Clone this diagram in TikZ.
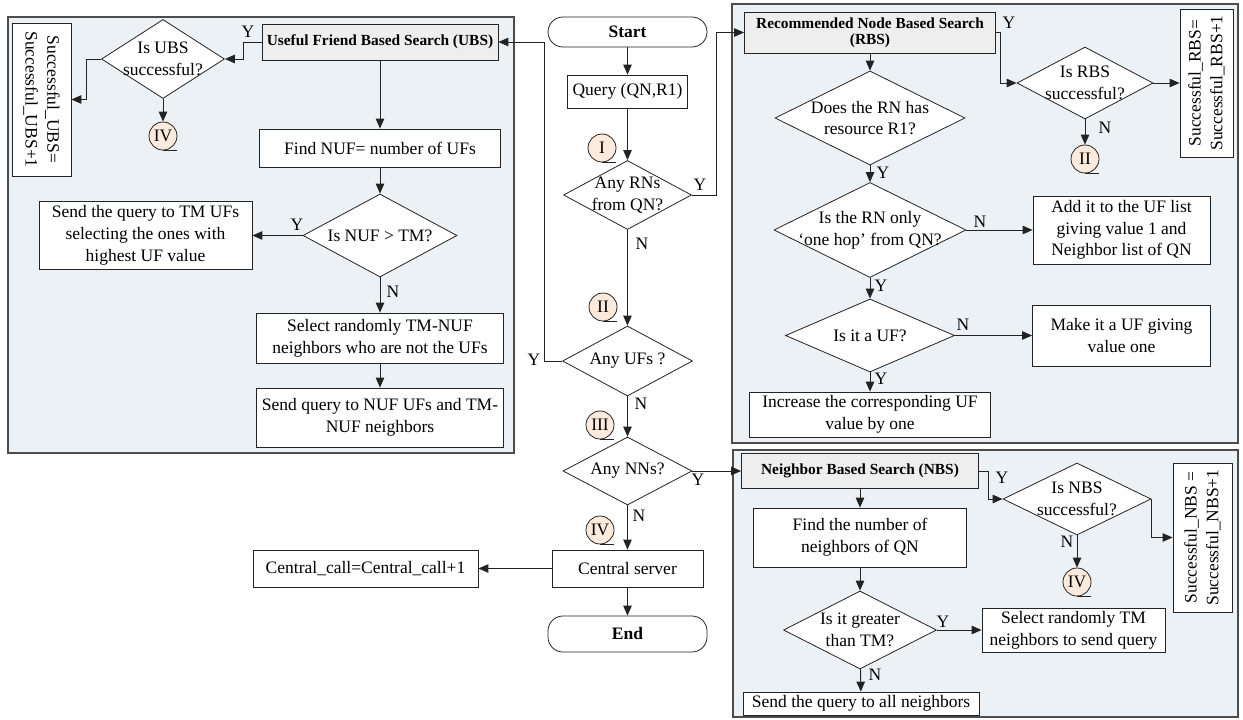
\documentclass[tikz,border=0pt]{standalone}
\usepackage{fontspec}
\setmainfont{Liberation Serif}
\usetikzlibrary{shapes.geometric,arrows.meta}
\definecolor{panelfill}{RGB}{236,241,245}
\definecolor{hdrfill}{RGB}{238,238,238}
\definecolor{circfill}{RGB}{252,235,220}
\definecolor{lc}{RGB}{35,35,35}

\begin{document}
\begin{tikzpicture}[x=1pt,y=-1pt,
  every node/.style={font=\fontsize{17.5}{21.7}\selectfont},
  every label/.style={align=center},
  panel/.style={draw=black!70, line width=1.2pt, fill=panelfill},
  box/.style 2 args={rectangle, draw=lc, line width=0.8pt, fill=white, align=center, inner sep=1pt, minimum width=#1, minimum height=#2},
  hdr/.style 2 args={box={#1}{#2}, fill=hdrfill, font=\bfseries\fontsize{15.4}{16}\selectfont},
  dec/.style 2 args={diamond, draw=lc, line width=0.8pt, fill=white, inner sep=0pt, minimum width=#1, minimum height=#2},
  term/.style={box={159}{#1}, rounded corners=15pt, font=\bfseries\fontsize{17.5}{21.7}\selectfont},
  conn/.style={circle, draw=lc, line width=0.8pt, fill=circfill, minimum size=28pt, inner sep=0pt},
  yn/.style={inner sep=0pt},
  arr/.style={draw=lc, line width=0.9pt, -{Triangle[length=10pt,width=8.5pt]}}]
\useasboundingbox (0,0) rectangle (1243,720);

% panels
\draw[panel] (8,17) rectangle (514,453);
\draw[panel] (732,4) rectangle (1238,443);
\draw[panel] (733,450) rectangle (1238,717);

% main column
\node[term=30] (start) at (627.5,32) {Start};
\node[box={120}{33}] (query) at (627.5,91.5) {Query (QN,R1)};
\node[dec={128}{69}, label=center:{Any RNs\\from QN?}] (rn) at (627.5,195) {};
\node[dec={130}{70}, label=center:{Any UFs ?}] (uf) at (627.5,361) {};
\node[dec={129}{68}, label=center:{Any NNs?}] (nn) at (627.5,471) {};
\node[box={151}{37}] (central) at (627.5,568.5) {Central server};
\node[box={225}{37}] (ccall) at (365.5,568.5) {Central\_call=Central\_call+1};
\node[term=36] (endn) at (627.5,634) {End};

% useful friend search
\node[hdr={236}{36}] (ubs) at (380,42) {Useful Friend Based Search (UBS)};
\node[dec={123}{79}, label=center:{Is UBS\\successful?}] (ubsq) at (163,59) {};
\node[box={153}{59}, rotate=-90] (succUBS) at (41.5,99.5) {Successful\_UBS=\\Successful\_UBS+1};
\node[box={241}{38}] (findnuf) at (380,148) {Find NUF= number of UFs};
\node[dec={154}{83}, label=center:{Is NUF > TM?}] (nuf) at (380,235.5) {};
\node[box={213}{68}] (sendtm) at (145.5,235.5) {Send the query to TM UFs\\selecting the ones with\\highest UF value};
\node[box={247}{50}] (select) at (380,338) {Select randomly TM-NUF\\neighbors who are not the UFs};
\node[box={247}{59}] (sendq) at (380,417.5) {Send query to NUF UFs and TM-\\NUF neighbors};

% recommended node search
\node[hdr={251}{41}] (rbs) at (870,32.5) {Recommended Node Based Search\\(RBS)};
\node[dec={136}{72}, label=center:{Is RBS\\successful?}] (rbsq) at (1085,83) {};
\node[box={148}{53}, rotate=90] (succRBS) at (1206.5,83) {Successful\_RBS=\\Successful\_RBS+1};
\node[dec={190}{94}, label=center:{Does the RN has\\resource R1?}] (res) at (870,118) {};
\node[dec={192}{95}, label=center:{Is the RN only\\`one hop' from QN?}] (hop) at (870,230) {};
\node[box={177}{68}] (addUF) at (1121.5,230) {Add it to the UF list\\giving value 1 and\\Neighbor list of QN};
\node[dec={169}{73}, label=center:{Is it a UF?}] (isuf) at (870,335.5) {};
\node[box={178}{61}] (make) at (1121.5,335.5) {Make it a UF giving\\value one};
\node[box={241}{45}] (incr) at (870,414.5) {Increase the corresponding UF\\value by one};

% neighbor search
\node[hdr={237}{35}] (nbs) at (860,471) {Neighbor Based Search (NBS)};
\node[dec={148}{72}, label=center:{Is NBS\\successful?}] (nbsq) at (1077,499) {};
\node[box={149}{59}, rotate=90] (succNBS) at (1202.5,537.5) {Successful\_NBS =\\Successful\_NBS+1};
\node[box={213}{59}] (findnum) at (860,537.5) {Find the number of\\neighbors of QN};
\node[dec={153}{78}, label=center:{Is it greater\\than TM?}] (gt) at (860,630) {};
\node[box={183}{44}] (selTM) at (1073.5,630) {Select randomly TM\\neighbors to send query};
\node[box={236}{23}] (sendall) at (861,703.5) {Send the query to all neighbors};

% connectors
\node[conn] (cI) at (602,148) {I};
\node[conn] (cII) at (603,307) {II};
\node[conn] (cIII) at (600,425) {III};
\node[conn] (cIVm) at (600,530) {IV};
\node[conn] (cIVl) at (163,136) {IV};
\node[conn] (cIIr) at (1085,159) {II};
\node[conn] (cIVr) at (1077,582) {IV};
\foreach \c in {cI,cII,cIII,cIVm,cIVl,cIIr,cIVr}
  \draw[draw=lc, line width=0.8pt] (\c.south) -- ++(14,0);

% Y / N
\node[yn] (yUBS) at (248,32) {Y};
\node[yn] (yNUF) at (297,225) {Y};
\node[yn] (nNUF) at (393,292) {N};
\node[yn] (yRN) at (700,185) {Y};
\node[yn] (nRN) at (642,244) {N};
\node[yn] (yUF) at (534,360) {Y};
\node[yn] (nUF) at (641,404) {N};
\node[yn] (yNN) at (698,480) {Y};
\node[yn] (nNN) at (639,516) {N};
\node[yn] (yRBS) at (1009,23) {Y};
\node[yn] (nRBS) at (1105,128) {N};
\node[yn] (yRES) at (883,173) {Y};
\node[yn] (nHOP) at (980,222) {N};
\node[yn] (yHOP) at (881,286) {Y};
\node[yn] (nISUF) at (963,325) {N};
\node[yn] (yISUF) at (881,379) {Y};
\node[yn] (yNBS) at (1002,478) {Y};
\node[yn] (nNBSQ) at (1067,542) {N};
\node[yn] (yGT) at (943,622) {Y};
\node[yn] (nGT) at (875,675) {N};

% main flow
\draw[arr] (start) -- (query);
\draw[arr] (query) -- (rn);
\draw[arr] (rn.east) -- ++(25,0) |- (rbs.west);
\draw[arr] (rn) -- (uf);
\draw[arr] (uf.west) -- ++(-18,0) |- (ubs.east);
\draw[arr] (uf) -- (nn);
\draw[arr] (nn.east) -- (nbs.west);
\draw[arr] (nn) -- (central);
\draw[arr] (central) -- (ccall);
\draw[arr] (central) -- (endn);

% UBS flow
\draw[arr] (ubs.west) -- ++(-18,0) |- (ubsq.east);
\draw[arr] (ubsq.west) -- ++(-15,0) |- (succUBS.north);
\draw[arr] (ubsq) -- (cIVl);
\draw[arr] (ubs) -- (findnuf);
\draw[arr] (findnuf) -- (nuf);
\draw[arr] (nuf) -- (sendtm);
\draw[arr] (nuf) -- (select);
\draw[arr] (select) -- (sendq);

% RBS flow
\draw[arr] (rbs.east) -- ++(5,0) |- (rbsq.west);
\draw[arr] (rbsq) -- (succRBS);
\draw[arr] (rbsq) -- (cIIr);
\draw[arr] (rbs) -- (res);
\draw[arr] (res) -- (hop);
\draw[arr] (hop) -- (addUF);
\draw[arr] (hop) -- (isuf);
\draw[arr] (isuf) -- (make);
\draw[arr] (isuf) -- (incr);

% NBS flow
\draw[arr] (nbs.east) -- ++(10,0) |- (nbsq.west);
\draw[arr] (nbsq.east) |- (succNBS.north);
\draw[arr] (nbsq) -- (cIVr);
\draw[arr] (nbs) -- (findnum);
\draw[arr] (findnum) -- (gt);
\draw[arr] (gt) -- (selTM);
\draw[arr] (gt) -- (sendall);

\end{tikzpicture}
\end{document}
